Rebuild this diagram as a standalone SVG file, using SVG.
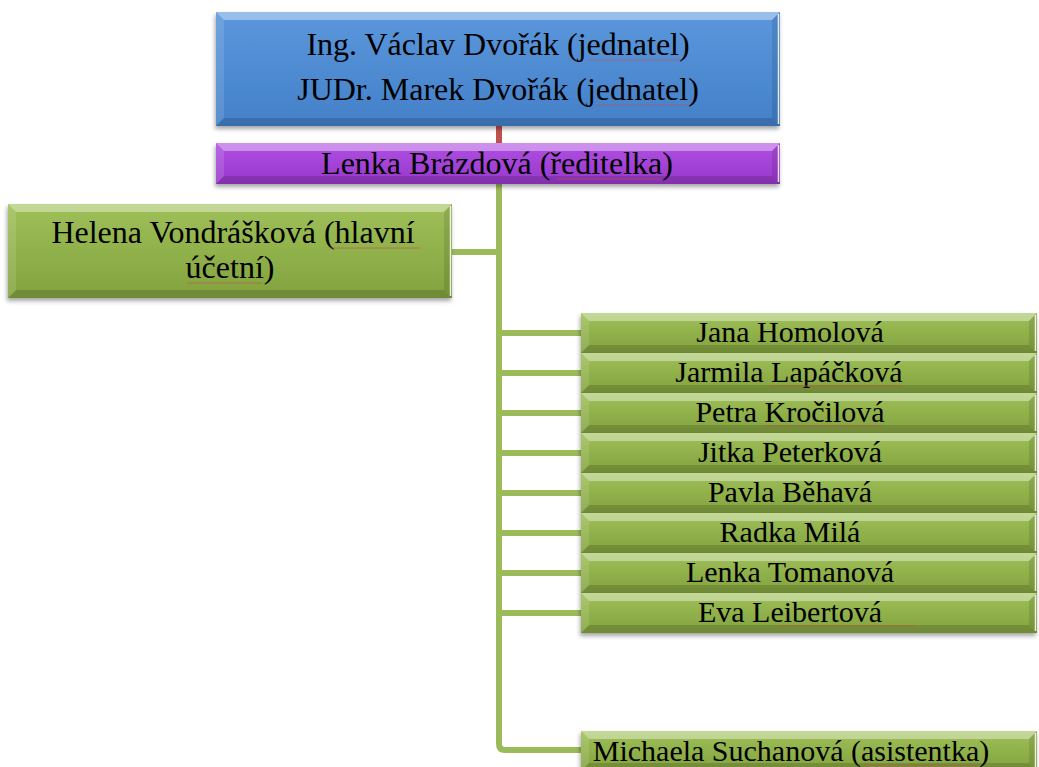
<svg xmlns="http://www.w3.org/2000/svg" xmlns:xlink="http://www.w3.org/1999/xlink" width="1039" height="767" viewBox="0 0 1039 767">
  <style>
    .lbl { font-family: "Liberation Serif", "Times New Roman", serif; fill: #000; text-anchor: middle; }
    .big { font-size: 32px; }
    .sm { font-size: 30px; }
    .hi { fill: #fff; opacity: 0.38; }
    .hl { fill: #fff; opacity: 0.12; }
    .sr { fill: #000; opacity: 0.1; }
    .sb { fill: #000; opacity: 0.14; }
    .edge { stroke: #fff; stroke-width: 1.5; opacity: 0.85; }
    .wire { fill: none; stroke: #9bbb59; stroke-width: 6; }
    .wire-red { fill: none; stroke: #c0504d; stroke-width: 6; }
    .spell { stroke: #c0504d; stroke-width: 1; opacity: 0.6; }
  </style>
  <defs>
    <linearGradient id="gBlue" x1="0" y1="0" x2="0" y2="1">
      <stop offset="0" stop-color="#5b97dc"/>
      <stop offset="1" stop-color="#4380c8"/>
    </linearGradient>
    <linearGradient id="gPurple" x1="0" y1="0" x2="0" y2="1">
      <stop offset="0" stop-color="#b04fe2"/>
      <stop offset="1" stop-color="#9838cc"/>
    </linearGradient>
    <linearGradient id="gGreen" x1="0" y1="0" x2="0" y2="1">
      <stop offset="0" stop-color="#9fc058"/>
      <stop offset="1" stop-color="#82a23e"/>
    </linearGradient>
    <filter id="shadow" x="-5%" y="-20%" width="110%" height="150%">
      <feDropShadow dx="-1" dy="3" stdDeviation="2" flood-color="#000" flood-opacity="0.35"/>
    </filter>
    <!-- bevelled cell used by the staff list (456 x 40) -->
    <g id="cell">
      <rect x="0" y="0" width="456" height="40" fill="url(#gGreen)" filter="url(#shadow)"/>
      <polygon class="hi" points="0,0 456,0 448,8 8,8"/>
      <polygon class="hl" points="0,0 8,8 8,32 0,40"/>
      <polygon class="sr" points="456,0 456,40 448,32 448,8"/>
      <polygon class="sb" points="0,40 456,40 448,32 8,32"/>
      <line class="edge" x1="454.5" y1="2" x2="454.5" y2="38"/>
    </g>
  </defs>

  <rect width="1039" height="767" fill="#fff"/>

  <!-- connectors -->
  <g id="connectors">
    <line class="wire-red" x1="499" y1="126" x2="499" y2="144"/>
    <path class="wire" d="M499 184 V744 Q499 750 505 750 H583"/>
    <line class="wire" x1="452" y1="252" x2="499" y2="252"/>
    <line class="wire" x1="499" y1="333" x2="583" y2="333"/>
    <line class="wire" x1="499" y1="373" x2="583" y2="373"/>
    <line class="wire" x1="499" y1="413" x2="583" y2="413"/>
    <line class="wire" x1="499" y1="453" x2="583" y2="453"/>
    <line class="wire" x1="499" y1="493" x2="583" y2="493"/>
    <line class="wire" x1="499" y1="533" x2="583" y2="533"/>
    <line class="wire" x1="499" y1="573" x2="583" y2="573"/>
    <line class="wire" x1="499" y1="613" x2="583" y2="613"/>
  </g>

  <!-- owners -->
  <g id="n-jednatele">
    <rect x="216" y="12" width="564" height="114" fill="url(#gBlue)" filter="url(#shadow)"/>
    <polygon class="hi" points="216,12 780,12 772,20 224,20"/>
    <polygon class="hl" points="216,12 224,20 224,118 216,126"/>
    <polygon class="sr" points="780,12 780,126 772,118 772,20"/>
    <polygon class="sb" points="216,126 780,126 772,118 224,118"/>
    <line class="edge" x1="778.5" y1="14" x2="778.5" y2="124"/>
    <text class="lbl big" x="498" y="55">Ing. Václav Dvořák (jednatel)</text>
    <text class="lbl big" x="498" y="100">JUDr. Marek Dvořák (jednatel)</text>
    <line class="spell" x1="588" y1="60" x2="682" y2="60"/>
    <line class="spell" x1="595" y1="105" x2="690" y2="105"/>
  </g>

  <!-- director -->
  <g id="n-reditelka">
    <rect x="216" y="143" width="564" height="41" fill="url(#gPurple)" filter="url(#shadow)"/>
    <polygon class="hi" points="216,143 780,143 772,151 224,151"/>
    <polygon class="hl" points="216,143 224,151 224,176 216,184"/>
    <polygon class="sr" points="780,143 780,184 772,176 772,151"/>
    <polygon class="sb" points="216,184 780,184 772,176 224,176"/>
    <line class="edge" x1="778.5" y1="145" x2="778.5" y2="182"/>
    <text class="lbl big" x="497" y="174">Lenka Brázdová (ředitelka)</text>
    <line class="spell" x1="557" y1="179" x2="662" y2="179"/>
  </g>

  <!-- chief accountant -->
  <g id="n-ucetni">
    <rect x="8" y="204" width="444" height="94" fill="url(#gGreen)" filter="url(#shadow)"/>
    <polygon class="hi" points="8,204 452,204 444,212 16,212"/>
    <polygon class="hl" points="8,204 16,212 16,290 8,298"/>
    <polygon class="sr" points="452,204 452,298 444,290 444,212"/>
    <polygon class="sb" points="8,298 452,298 444,290 16,290"/>
    <line class="edge" x1="450.5" y1="206" x2="450.5" y2="296"/>
    <text class="lbl big" x="233" y="243">Helena Vondrášková (hlavní</text>
    <text class="lbl big" x="230" y="278">účetní)</text>
    <line class="spell" x1="330" y1="248" x2="420" y2="248"/>
    <line class="spell" x1="187" y1="283" x2="262" y2="283"/>
  </g>

  <!-- staff -->
  <g id="n-homolova">
    <use href="#cell" x="581" y="313"/>
    <text class="lbl sm" x="790" y="342">Jana Homolová</text>
  </g>
  <g id="n-lapackova">
    <use href="#cell" x="581" y="353"/>
    <text class="lbl sm" x="789" y="382">Jarmila Lapáčková</text>
    <line class="spell" x1="770" y1="386" x2="902" y2="386"/>
  </g>
  <g id="n-krocilova">
    <use href="#cell" x="581" y="393"/>
    <text class="lbl sm" x="790" y="422">Petra Kročilová</text>
    <line class="spell" x1="763" y1="426" x2="883" y2="426"/>
  </g>
  <g id="n-peterkova">
    <use href="#cell" x="581" y="433"/>
    <text class="lbl sm" x="790" y="462">Jitka Peterková</text>
  </g>
  <g id="n-behava">
    <use href="#cell" x="581" y="473"/>
    <text class="lbl sm" x="790" y="502">Pavla Běhavá</text>
  </g>
  <g id="n-mila">
    <use href="#cell" x="581" y="513"/>
    <text class="lbl sm" x="790" y="542">Radka Milá</text>
  </g>
  <g id="n-tomanova">
    <use href="#cell" x="581" y="553"/>
    <text class="lbl sm" x="790" y="582">Lenka Tomanová</text>
  </g>
  <g id="n-leibertova">
    <use href="#cell" x="581" y="593"/>
    <text class="lbl sm" x="790" y="622">Eva Leibertová</text>
    <line class="spell" x1="778" y1="626" x2="915" y2="626"/>
  </g>

  <!-- assistant -->
  <g id="n-asistentka">
    <use href="#cell" x="581" y="731"/>
    <text class="lbl sm" x="791" y="761">Michaela Suchanová (asistentka)</text>
    <line class="spell" x1="865" y1="765" x2="978" y2="765"/>
  </g>
</svg>
